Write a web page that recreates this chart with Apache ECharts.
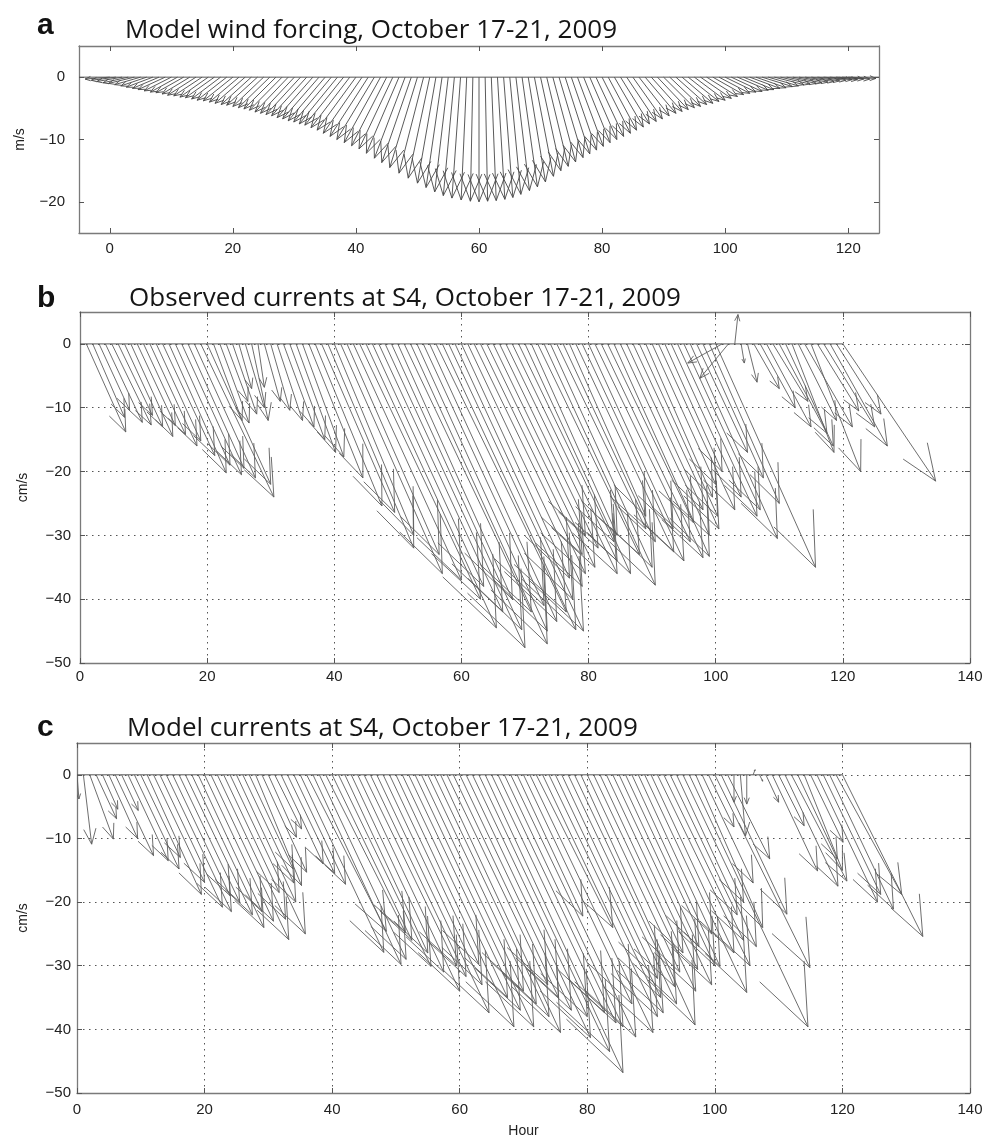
<!DOCTYPE html>
<html>
<head>
<meta charset="utf-8">
<script src="https://cdn.jsdelivr.net/npm/echarts@6.0.0/dist/echarts.min.js"></script>
<style>
html,body{margin:0;padding:0;background:#fff;}
#chart{width:987px;height:1140px;}
</style>
</head>
<body>
<div id="chart"></div>
<script>
// ---------------- DATA ----------------
// Panel a: model wind (m/s), one stick per hour starting at hour 0
const windStartHour = 0;
const windU = [-4.0,-4.0,-4.1,-4.1,-4.2,-4.2,-4.2,-4.3,-4.3,-4.4,
  -4.4,-4.4,-4.5,-4.5,-4.6,-4.6,-4.6,-4.7,-4.7,-4.8,
  -4.8,-4.8,-4.9,-4.9,-5.0,-5.0,-5.1,-5.2,-5.3,-5.4,
  -5.5,-5.6,-5.7,-5.8,-5.9,-6.0,-6.1,-6.2,-6.3,-6.3,
  -6.3,-6.3,-6.2,-6.1,-5.9,-5.7,-5.5,-5.3,-5.0,-4.8,
  -4.5,-4.0,-3.5,-3.0,-2.6,-2.2,-1.8,-1.4,-0.9,-0.4,
  0.0,0.4,0.8,1.2,1.5,1.8,2.2,2.5,2.8,3.1,
  3.3,3.5,3.7,3.9,4.0,4.1,4.2,4.3,4.4,4.5,
  4.6,4.6,4.7,4.7,4.8,4.8,4.9,5.0,5.0,5.0,
  5.0,5.0,5.0,5.0,5.0,5.0,5.0,5.0,5.0,5.0,
  5.0,5.0,5.0,4.9,4.9,4.9,4.9,4.9,4.8,4.8,
  4.8,4.7,4.7,4.7,4.6,4.6,4.6,4.5,4.5,4.5,
  4.5];
const windV = [-0.3,-0.5,-0.7,-0.9,-1.0,-1.2,-1.4,-1.6,-1.8,-2.0,
  -2.2,-2.4,-2.5,-2.7,-2.9,-3.0,-3.2,-3.3,-3.5,-3.7,
  -3.8,-4.0,-4.2,-4.4,-4.5,-4.7,-4.9,-5.1,-5.3,-5.6,
  -5.8,-6.0,-6.2,-6.5,-6.7,-7.0,-7.2,-7.5,-7.7,-8.1,
  -8.5,-9.0,-9.5,-10.0,-10.5,-11.0,-11.5,-12.2,-13.0,-13.7,
  -14.5,-15.4,-16.2,-17.0,-17.7,-18.4,-19.0,-19.4,-19.7,-19.9,
  -20.0,-19.9,-19.8,-19.6,-19.3,-18.8,-18.2,-17.6,-16.8,-15.9,
  -15.0,-14.3,-13.6,-12.9,-12.3,-11.7,-11.1,-10.5,-10.0,-9.5,
  -9.0,-8.5,-8.0,-7.5,-7.1,-6.7,-6.2,-5.8,-5.5,-5.2,
  -4.9,-4.7,-4.4,-4.2,-3.9,-3.7,-3.4,-3.1,-2.8,-2.6,
  -2.4,-2.3,-2.1,-2.0,-1.8,-1.7,-1.5,-1.4,-1.2,-1.1,
  -1.0,-0.9,-0.8,-0.7,-0.6,-0.5,-0.4,-0.4,-0.3,-0.3,
  -0.2];

// Panel b: observed currents (cm/s), one stick per hour starting at hour 1
const obsStartHour = 1;
const obsU = [6.2,5.0,4.8,5.8,6.2,5.4,6.0,6.6,6.0,6.6,
  7.4,7.0,8.2,9.0,8.6,9.4,8.8,9.6,11.5,10.0,
  4.5,4.6,3.4,3.8,2.0,3.0,2.6,1.0,2.5,3.0,
  4.0,4.8,5.5,6.2,6.5,8.5,10.5,11.5,13.5,12.5,
  16.0,14.5,17.0,19.0,20.5,17.5,19.5,22.0,20.5,18.0,
  20.0,21.5,20.5,19.0,20.0,20.5,21.0,21.2,18.5,17.0,
  18.0,17.5,16.0,17.0,14.5,15.5,17.5,16.5,15.0,16.6,
  13.5,16.0,17.5,16.0,14.0,14.5,12.0,15.4,16.0,13.3,
  15.0,16.0,13.5,15.0,14.0,12.0,13.5,12.3,10.5,10.0,
  12.0,9.0,11.0,12.5,12.0,13.7,8.0,9.5,11.0,15.7,
  -5.4,-4.5,0.5,0.5,1.5,4.0,5.5,7.0,5.5,7.5,
  7.5,6.6,6.0,7.5,7.8,6.5,8.0,9.0,7.0,14.6];
const obsV = [-13.8,-11.5,-10.4,-12.3,-12.7,-11.2,-13.0,-14.5,-12.8,-14.2,
  -16.0,-15.2,-17.5,-20.2,-19.0,-20.5,-19.5,-21.0,-24.0,-22.0,
  -12.0,-12.4,-9.0,-11.0,-7.0,-10.0,-12.0,-6.8,-9.0,-10.4,
  -12.0,-13.0,-15.0,-17.0,-17.7,-21.0,-25.4,-26.4,-32.0,-30.0,
  -36.0,-33.0,-37.0,-40.0,-44.5,-38.0,-42.0,-47.6,-44.8,-40.0,
  -42.0,-47.0,-45.0,-41.0,-43.5,-42.0,-44.8,-45.0,-40.0,-36.7,
  -38.0,-36.0,-33.0,-35.0,-30.0,-32.0,-36.0,-34.0,-31.0,-36.0,
  -30.0,-33.0,-37.8,-35.0,-29.0,-31.0,-27.0,-32.6,-34.0,-29.0,
  -31.0,-33.5,-28.0,-33.3,-30.0,-26.0,-29.0,-27.0,-24.0,-22.0,
  -26.0,-20.0,-24.0,-27.0,-26.0,-30.5,-17.0,-21.0,-25.0,-35.0,
  -3.0,-5.4,4.6,-3.0,-6.0,-7.0,-10.0,-13.0,-9.0,-14.0,
  -16.0,-17.0,-12.0,-13.0,-20.0,-10.5,-13.0,-16.0,-11.0,-21.5];

// Panel c: model currents (cm/s), one stick per hour starting at hour 0
const modStartHour = 0;
const modU = [0.3,1.3,3.7,3.2,2.4,4.5,6.0,2.6,6.3,7.0,
  6.2,8.5,8.0,9.8,10.2,9.0,9.5,10.5,11.3,10.0,
  10.8,12.2,10.7,8.7,11.8,9.3,8.0,6.9,7.2,7.0,
  4.4,4.2,6.6,7.4,8.1,13.1,12.5,13.8,13.6,12.5,
  12.5,14.5,13.0,14.5,16.0,14.5,15.0,17.6,15.5,14.0,
  18.5,16.5,17.5,18.6,16.0,17.0,18.0,18.8,15.8,16.5,
  17.5,19.5,18.0,20.5,21.6,17.7,18.5,18.6,19.6,10.3,
  17.0,19.3,12.0,18.0,17.9,16.5,15.0,17.0,15.7,17.9,
  14.5,16.0,13.0,14.3,15.5,12.5,14.0,13.8,11.5,16.0,
  13.0,14.5,12.5,10.5,12.5,9.5,18.6,10.5,8.0,4.0,
  14.9,10.3,6.6,0.0,0.8,0.0,0.3,0.5,2.0,7.1,
  4.0,8.3,8.7,6.2,6.0,5.1,9.5,9.0,10.0,10.3,
  12.6];
const modV = [-3.8,-10.9,-10.1,-6.9,-5.4,-10.0,-12.7,-5.6,-13.5,-14.8,
  -13.0,-18.8,-16.9,-20.8,-21.5,-19.0,-20.0,-22.0,-24.0,-21.5,
  -23.0,-25.9,-22.7,-18.5,-25.0,-20.0,-17.0,-14.8,-17.4,-15.3,
  -9.8,-8.5,-14.0,-15.5,-17.2,-27.9,-24.6,-29.8,-29.0,-24.8,
  -26.0,-30.1,-28.0,-31.0,-34.0,-30.0,-31.7,-37.4,-33.0,-29.8,
  -39.6,-35.0,-37.0,-39.6,-34.0,-36.0,-38.0,-40.5,-33.0,-35.0,
  -37.0,-41.3,-38.0,-43.5,-46.8,-37.4,-39.0,-39.6,-41.2,-22.2,
  -36.0,-40.5,-24.0,-38.0,-37.4,-35.0,-32.0,-36.0,-33.3,-39.3,
  -31.0,-34.0,-28.0,-30.6,-33.0,-27.0,-30.0,-30.1,-25.0,-34.2,
  -28.0,-30.0,-26.0,-22.0,-27.0,-20.0,-39.6,-24.0,-17.0,-8.2,
  -30.3,-21.9,-13.2,-4.3,-9.6,-4.6,0.8,-1.0,-4.3,-15.1,
  -8.0,-17.5,-16.7,-13.2,-15.0,-10.6,-20.0,-18.8,-21.1,-18.8,
  -25.4];

// baselines (hour extents of the zero line)
const baseA = [-5, 125];
const baseB = [0, 120];
const baseC = [0, 120];

// axis ticks
const ticksXA = [0, 20, 40, 60, 80, 100, 120];
const ticksYA = [-20, -10, 0];
const ticksYBC = [-50, -40, -30, -20, -10, 0];

const titles = {
  a: 'Model wind forcing, October 17-21, 2009',
  b: 'Observed currents at S4, October 17-21, 2009',
  c: 'Model currents at S4, October 17-21, 2009'
};

// ---------------- CHART ----------------
const chart = echarts.init(document.getElementById('chart'), null, {renderer: 'canvas'});

function toData(start, U, V) {
  return U.map((u, i) => [start + i, u, V[i]]);
}
function makeRender(color, lw) {
  return function (params, api) {
    const h = api.value(0), u = api.value(1), v = api.value(2);
    const p0 = api.coord([h, 0]);
    const p1 = api.coord([h + u, v]);
    const dx = p1[0] - p0[0], dy = p1[1] - p0[1];
    const A = 0.22, B = 0.4;
    const b1 = [p1[0] - A * (dx + B * dy), p1[1] - A * (dy - B * dx)];
    const b2 = [p1[0] - A * (dx - B * dy), p1[1] - A * (dy + B * dx)];
    return {
      type: 'group',
      children: [
        {type: 'line', shape: {x1: p0[0], y1: p0[1], x2: p1[0], y2: p1[1]},
         style: {stroke: color, lineWidth: lw}},
        {type: 'polyline', shape: {points: [b1, p1, b2]},
         style: {stroke: color, fill: 'none', lineWidth: lw}}
      ]
    };
  };
}

const minus = v => String(v).replace('-', '\u2212');
const frame = {show: true, onZero: false, lineStyle: {color: '#7a7a7a', width: 1.3}};
const tickIn = {show: true, inside: true, length: 5, lineStyle: {color: '#555', width: 1}};
const labelFont = {fontFamily: 'Liberation Sans, Arial, sans-serif', fontSize: 15, color: '#222'};
const dotted = {show: true, lineStyle: {color: '#555', width: 1, type: [1.5, 4.5]}};
const nameFont = {fontFamily: 'Liberation Sans, Arial, sans-serif', fontSize: 14, color: '#222'};

function mirror(base, pos) {
  return Object.assign({}, base, {
    position: pos, name: '', axisLabel: {show: false},
    splitLine: {show: false}
  });
}

const xA = {type: 'value', gridIndex: 0, min: -5, max: 125, interval: 5,
  axisLine: frame, axisTick: Object.assign({}, tickIn, {customValues: ticksXA}),
  axisLabel: Object.assign({}, labelFont, {customValues: ticksXA, margin: 8, formatter: minus}),
  splitLine: {show: false}};
const yA = {type: 'value', gridIndex: 0, min: -25, max: 5, interval: 5,
  axisLine: frame, axisTick: Object.assign({}, tickIn, {customValues: ticksYA}),
  axisLabel: Object.assign({}, labelFont, {customValues: ticksYA, margin: 14, formatter: minus}),
  splitLine: {show: false},
  name: 'm/s', nameLocation: 'middle', nameGap: 52, nameTextStyle: nameFont};
const xB = {type: 'value', gridIndex: 1, min: 0, max: 140, interval: 20,
  axisLine: frame, axisTick: tickIn,
  axisLabel: Object.assign({}, labelFont, {margin: 6, formatter: minus}),
  splitLine: dotted};
const yB = {type: 'value', gridIndex: 1, min: -50, max: 5, interval: 10,
  axisLine: frame, axisTick: Object.assign({}, tickIn, {customValues: ticksYBC}),
  axisLabel: Object.assign({}, labelFont, {customValues: ticksYBC, margin: 9, formatter: minus}),
  splitLine: dotted,
  name: 'cm/s', nameLocation: 'middle', nameGap: 50, nameTextStyle: nameFont};
const xC = Object.assign({}, xB, {gridIndex: 2,
  axisLabel: Object.assign({}, labelFont, {margin: 9, formatter: minus}),
  name: 'Hour', nameLocation: 'middle', nameGap: 31, nameTextStyle: nameFont});
const yC = Object.assign({}, yB, {gridIndex: 2,
  axisLabel: Object.assign({}, labelFont, {customValues: ticksYBC, margin: 6, formatter: minus}),
  nameGap: 47});

const titleFont = {fontFamily: 'Open Sans, sans-serif', fontSize: 26, fontWeight: 'normal', color: '#151515'};
const letterFont = {fontFamily: 'Liberation Sans, Arial, sans-serif', fontSize: 30, fontWeight: 'bold', color: '#111'};

const option = {
  backgroundColor: '#ffffff',
  animation: false,
  title: [
    {text: 'a', left: 37, top: 11, padding: 0, textStyle: letterFont},
    {text: titles.a, left: 125, top: 18, padding: 0, textStyle: titleFont},
    {text: 'b', left: 37, top: 284, padding: 0, textStyle: letterFont},
    {text: titles.b, left: 129, top: 286, padding: 0, textStyle: titleFont},
    {text: 'c', left: 37, top: 713, padding: 0, textStyle: letterFont},
    {text: titles.c, left: 127, top: 716, padding: 0, textStyle: titleFont}
  ],
  grid: [
    {left: 79, top: 46, width: 800, height: 187},
    {left: 80, top: 312, width: 890, height: 351},
    {left: 77, top: 743, width: 893, height: 350}
  ],
  xAxis: [xA, mirror(xA, 'top'), xB, mirror(xB, 'top'), xC, mirror(xC, 'top')],
  yAxis: [yA, mirror(yA, 'right'), yB, mirror(yB, 'right'), yC, mirror(yC, 'right')],
  series: [
    {type: 'line', xAxisIndex: 0, yAxisIndex: 0, data: baseA.map(h => [h, 0]), symbol: 'none',
     lineStyle: {color: '#555', width: 1}, silent: true},
    {type: 'custom', xAxisIndex: 0, yAxisIndex: 0, clip: true,
     data: toData(windStartHour, windU, windV), renderItem: makeRender('#474747', 0.9), silent: true},
    {type: 'line', xAxisIndex: 2, yAxisIndex: 2, data: baseB.map(h => [h, 0]), symbol: 'none',
     lineStyle: {color: '#555', width: 1}, silent: true},
    {type: 'custom', xAxisIndex: 2, yAxisIndex: 2, clip: true,
     data: toData(obsStartHour, obsU, obsV), renderItem: makeRender('#5e5e5e', 0.9), silent: true},
    {type: 'line', xAxisIndex: 4, yAxisIndex: 4, data: baseC.map(h => [h, 0]), symbol: 'none',
     lineStyle: {color: '#555', width: 1}, silent: true},
    {type: 'custom', xAxisIndex: 4, yAxisIndex: 4, clip: true,
     data: toData(modStartHour, modU, modV), renderItem: makeRender('#5e5e5e', 0.9), silent: true}
  ]
};
chart.setOption(option);
</script>
</body>
</html>
